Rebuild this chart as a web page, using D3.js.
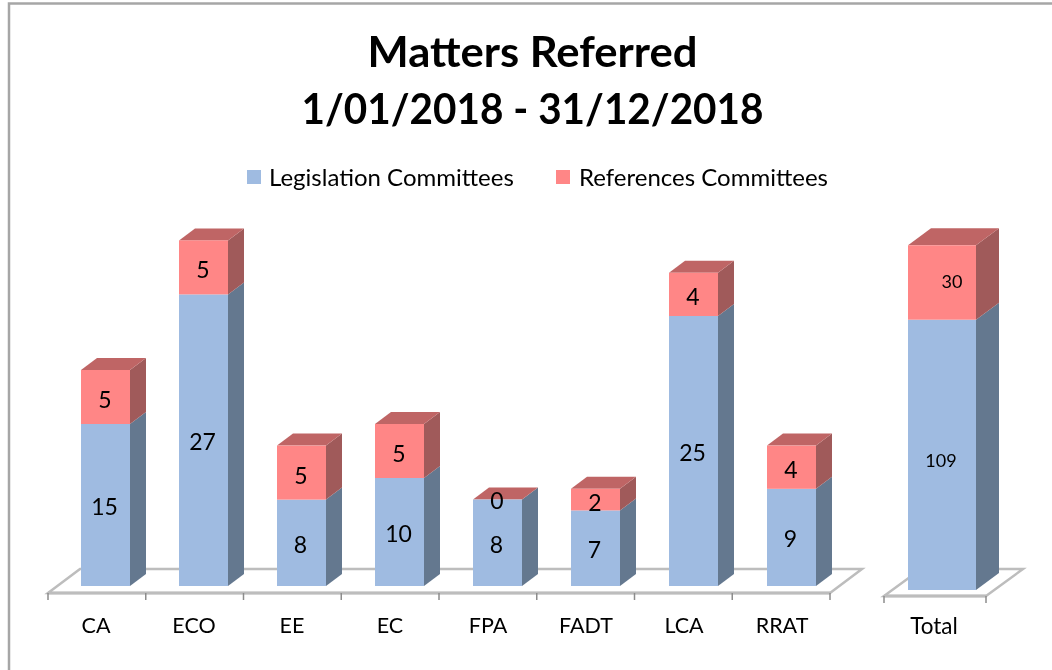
<!DOCTYPE html>
<html>
<head>
<meta charset="utf-8">
<script src="https://cdnjs.cloudflare.com/ajax/libs/d3/7.8.5/d3.min.js"></script>
<style>
  html, body { margin: 0; padding: 0; background: #fff; }
  text { font-family: Lato, "Open Sans", sans-serif; fill: #000; }
  svg { filter: blur(0.4px); }
</style>
</head>
<body>
<div id="chart"></div>
<script>
//data
const categories = ["CA", "ECO", "EE", "EC", "FPA", "FADT", "LCA", "RRAT"];
const legislation = [15, 27, 8, 10, 8, 7, 25, 9];
const references = [5, 5, 5, 5, 0, 2, 4, 4];
const totalCategory = ["Total"];
const totalLegislation = [109];
const totalReferences = [30];
const seriesNames = ["Legislation Committees", "References Committees"];
const titleLines = ["Matters Referred", "1/01/2018 - 31/12/2018"];

//constants
const width = 1052, height = 670;
const blue = { front: "#9fbbe1", side: "#64788f" };
const red = { front: "#ff8686", side: "#a05a5a", top: "#bf6565" };
const floorColor = "#bdbdbd";

const svg = d3.select("#chart").append("svg")
  .attr("width", width)
  .attr("height", height)
  .style("display", "block");

// frame, only top and left edges are in the picture
svg.append("path")
  .attr("d", "M9,670V3.5H1052")
  .attr("fill", "none")
  .attr("stroke", "#a6a6a6")
  .attr("stroke-width", 2.5);

// title
const titleWidths = [330, 462];
svg.selectAll(".title")
  .data(titleLines)
  .join("text")
  .attr("class", "title")
  .attr("x", 532.5)
  .attr("y", (d, i) => 67 + i * 56.5)
  .attr("text-anchor", "middle")
  .attr("font-size", 42)
  .attr("font-weight", 700)
  .attr("textLength", (d, i) => titleWidths[i])
  .attr("lengthAdjust", "spacingAndGlyphs")
  .text(d => d);

// legend
const legend = svg.append("g");
[[247, 269, blue.front], [556, 579, red.front]].forEach((l, i) => {
  legend.append("rect")
    .attr("x", l[0]).attr("y", 170)
    .attr("width", 14).attr("height", 14)
    .attr("fill", l[2]);
  legend.append("text")
    .attr("x", l[1]).attr("y", 186)
    .attr("font-size", 24)
    .text(seriesNames[i]);
});

// draws one group of stacked 3d bars with its floor and axis
function drawPanel(cfg) {
  const x = d3.scaleBand()
    .domain(cfg.cats)
    .range(cfg.xRange)
    .paddingInner(cfg.padding)
    .paddingOuter(cfg.padding / 2);

  const y = d3.scaleLinear()
    .domain([0, cfg.yMax])
    .range([cfg.base, cfg.base - cfg.yMax * cfg.unit]);

  // ticks sit a little off the bar spacing in the original
  const tickX = d3.scaleLinear()
    .domain([0, cfg.cats.length])
    .range(cfg.tickRange);

  const g = svg.append("g");
  const [fl, fr] = cfg.tickRange;

  // floor
  g.append("path")
    .attr("d", `M${fl},${cfg.axisY}L${fl + cfg.floor[0]},${cfg.axisY - cfg.floor[1]}H${fr + cfg.floor[0]}L${fr},${cfg.axisY}Z`)
    .attr("fill", "#fff")
    .attr("stroke", floorColor)
    .attr("stroke-width", 2.5);

  // axis
  const axisG = g.append("g")
    .attr("transform", `translate(0,${cfg.axisY})`);
  axisG.append("line")
    .attr("x1", fl).attr("x2", fr)
    .attr("stroke", floorColor)
    .attr("stroke-width", 3);
  axisG.selectAll(".tick")
    .data(d3.range(cfg.cats.length + 1))
    .join("line")
    .attr("class", "tick")
    .attr("x1", i => tickX(i))
    .attr("x2", i => tickX(i))
    .attr("y1", 0).attr("y2", 7)
    .attr("stroke", "#8c8c8c")
    .attr("stroke-width", 1.5);
  axisG.selectAll(".cat")
    .data(cfg.cats)
    .join("text")
    .attr("class", "cat")
    .attr("x", d => x(d) + x.bandwidth() / 2 + cfg.labelDx)
    .attr("y", cfg.labelY - cfg.axisY)
    .attr("text-anchor", "middle")
    .attr("font-size", cfg.catSize)
    .text(d => d);

  const [dx, dy] = cfg.depth;
  const bw = x.bandwidth();
  const bx = d => x(d) + cfg.shift;

  cfg.cats.forEach((c, i) => {
    const a = cfg.low[i], b = cfg.high[i];
    const x0 = bx(c), x1 = x0 + bw;
    const y0 = y(0), y1 = y(a), y2 = y(a + b);

    // side faces
    g.append("path")
      .attr("d", `M${x1},${y0}l${dx},${-dy}V${y1 - dy}L${x1},${y1}Z`)
      .attr("fill", blue.side);
    g.append("path")
      .attr("d", `M${x1},${y1}l${dx},${-dy}V${y2 - dy}L${x1},${y2}Z`)
      .attr("fill", red.side);
    // top face
    g.append("path")
      .attr("d", `M${x0},${y2}l${dx},${-dy}H${x1 + dx}L${x1},${y2}Z`)
      .attr("fill", red.top);
    // front faces
    g.append("rect")
      .attr("x", x0).attr("y", y1)
      .attr("width", bw).attr("height", y0 - y1)
      .attr("fill", blue.front);
    g.append("rect")
      .attr("x", x0).attr("y", y2)
      .attr("width", bw).attr("height", y1 - y2)
      .attr("fill", red.front);

    // value labels
    g.append("text")
      .attr("x", x0 + bw / 2 + cfg.lowDx)
      .attr("y", (y0 + y1) / 2 + cfg.lowDy)
      .attr("text-anchor", "middle")
      .attr("font-size", cfg.valSize)
      .text(a);
    g.append("text")
      .attr("x", x0 + bw / 2 + cfg.highDx)
      .attr("y", b === 0 ? y2 + cfg.zeroDy : (y1 + y2) / 2 + cfg.highDy)
      .attr("text-anchor", "middle")
      .attr("font-size", cfg.valSize)
      .text(b);
  });
}

drawPanel({
  cats: categories, low: legislation, high: references,
  xRange: [49, 833], tickRange: [48, 830], padding: 0.5, shift: 7.5,
  base: 586, unit: 10.8, yMax: 32,
  axisY: 593, floor: [32, 24], depth: [16, 12],
  labelY: 633, labelDx: -2, catSize: 21.5,
  valSize: 23, lowDx: -1, lowDy: 10, highDx: -0.5, highDy: 11, zeroDy: 9
});

drawPanel({
  cats: totalCategory, low: totalLegislation, high: totalReferences,
  xRange: [884, 986], tickRange: [884, 986], padding: 1 / 3, shift: 7,
  base: 590, unit: 2.48, yMax: 139,
  axisY: 596, floor: [37, 27], depth: [23, 17],
  labelY: 634, labelDx: -1, catSize: 22.5,
  valSize: 18, lowDx: -1, lowDy: 12, highDx: 10, highDy: 6, zeroDy: 10
});
</script>
</body>
</html>
